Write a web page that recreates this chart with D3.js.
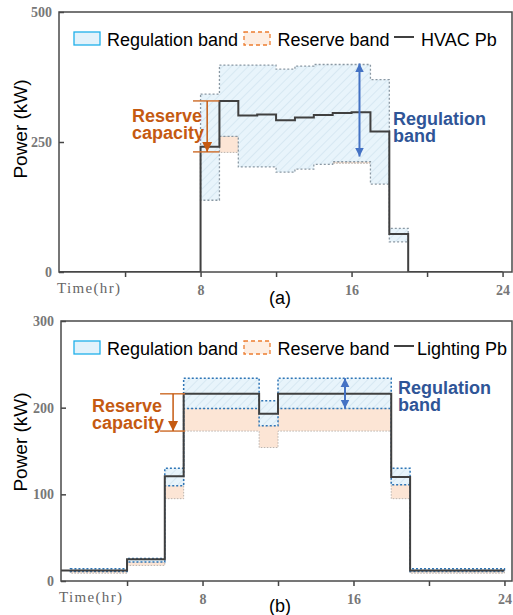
<!DOCTYPE html>
<html>
<head>
<meta charset="utf-8">
<script src="https://cdn.jsdelivr.net/npm/d3@7"></script>
<style>
  body { margin: 0; background: #fff; }
  svg { display: block; }
</style>
</head>
<body>
<div id="chart"></div>
<script>
// hourly data, index = hour of day (interval [h, h+1))
const hours = d3.range(24);

// (a) HVAC
const hvacPb    = [0,0,0,0,0,0,0,0, 241,329,301,303,292,297,302,306,307,270,73, 0,0,0,0,0];
const hvacRegHi = [null,null,null,null,null,null,null,null, 342,398,398,398,390,396,399,399,399,370,84, null,null,null,null,null];
const hvacRegLo = [null,null,null,null,null,null,null,null, 138,261,202,202,192,198,207,212,212,169,58, null,null,null,null,null];
const hvacResLo = [null,null,null,null,null,null,null,null, null,230,null,null,null,null,null,209,209,null,null, null,null,null,null,null];

// (b) Lighting
const lightPb    = [12,12,12,12, 25,25, 121, 216,216,216,216, 193, 216,216,216,216,216,216, 120, 12,12,12,12,12];
const lightRegHi = [null,14,14,14, 26,26, 130, 234,234,234,234, 208, 234,234,234,234,234,234, 130, 14,14,14,14,14];
const lightRegLo = [null,11,11,11, 22,22, 110, 199,199,199,199, 179, 199,199,199,199,199,199, 111, 11,11,11,11,11];
const lightResLo = [null,9,9,9, 18,18, 95, 173,173,173,173, 154, 173,173,173,173,173,173, 95, 9,9,9,9,9];

const xTicks = [4, 8, 12, 16, 20, 24];
const xTickLabels = [8, 16, 24];

const W = 513, H = 615;
const svg = d3.select("#chart").append("svg").attr("width", W).attr("height", H);
const defs = svg.append("defs");

// hatch for regulation band
const pat = defs.append("pattern")
  .attr("id", "hatch")
  .attr("patternUnits", "userSpaceOnUse")
  .attr("width", 6).attr("height", 6)
  .attr("patternTransform", "rotate(45)");
pat.append("rect").attr("width", 6).attr("height", 6).attr("fill", "#e8f4fb");
pat.append("line").attr("x1", 0).attr("y1", 0).attr("x2", 0).attr("y2", 6)
  .attr("stroke", "#c6dcea").attr("stroke-width", 1);

// arrow heads
function marker(id, color, w, h) {
  defs.append("marker")
    .attr("id", id)
    .attr("viewBox", "0 0 10 10")
    .attr("refX", 10).attr("refY", 5)
    .attr("markerUnits", "userSpaceOnUse")
    .attr("markerWidth", h).attr("markerHeight", w)
    .attr("orient", "auto-start-reverse")
    .append("path").attr("d", "M0,0 L10,5 L0,10 z").attr("fill", color);
}
marker("arrOrange", "#c55a11", 11, 10);
marker("arrBlue", "#4472c4", 11, 9);

function stepBand(lo, hi) {
  const pts = [];
  hours.forEach(h => {
    if (lo[h] == null || hi[h] == null) { pts.push(null); return; }
    pts.push({t: h, lo: lo[h], hi: hi[h]}, {t: h + 1, lo: lo[h], hi: hi[h]});
  });
  return pts;
}
function stepLine(vals) {
  const pts = [];
  hours.forEach(h => { pts.push({t: h, v: vals[h]}, {t: h + 1, v: vals[h]}); });
  return pts;
}

function drawPanel(p) {
  const g = svg.append("g");
  const x = d3.scaleLinear().domain(p.xDomain).range([p.left, p.right]);
  const y = d3.scaleLinear().domain([0, p.yMax]).range([p.bottom, p.top]);

  const clipId = "clip" + p.id;
  defs.append("clipPath").attr("id", clipId)
    .append("rect").attr("x", p.left).attr("y", p.top)
    .attr("width", p.right - p.left).attr("height", p.bottom - p.top);

  const area = d3.area().defined(d => d != null)
    .x(d => x(d.t)).y0(d => y(d.lo)).y1(d => y(d.hi));

  const plot = g.append("g").attr("clip-path", `url(#${clipId})`);

  // reserve band
  plot.append("path")
    .attr("d", area(stepBand(p.resLo, p.regLo)))
    .attr("fill", "#fce5d5")
    .attr("stroke", "#b9b2ad").attr("stroke-width", 1)
    .attr("stroke-dasharray", "1.5,1.5");

  // regulation band
  plot.append("path")
    .attr("d", area(stepBand(p.regLo, p.regHi)))
    .attr("fill", "url(#hatch)")
    .attr("stroke", p.bandStroke).attr("stroke-width", p.bandStrokeW)
    .attr("stroke-dasharray", "2,2");

  // baseline power
  const line = d3.line().x(d => x(d.t)).y(d => y(d.v));
  plot.append("path")
    .attr("d", line(stepLine(p.pb)))
    .attr("fill", "none").attr("stroke", "#404040").attr("stroke-width", 2);

  // axes
  const xAxis = g.append("g")
    .attr("transform", `translate(0,${p.bottom})`)
    .call(d3.axisBottom(x).tickValues(xTicks)
      .tickFormat(d => xTickLabels.includes(d) ? d : "")
      .tickSize(5).tickPadding(8));
  xAxis.select(".domain").remove();
  xAxis.selectAll("line").attr("stroke", "#444").attr("stroke-width", 1.5);
  xAxis.selectAll("text")
    .attr("font-family", "Liberation Serif, serif")
    .attr("font-size", 14).attr("font-weight", "bold").attr("fill", "#777");

  const yAxis = g.append("g")
    .attr("transform", `translate(${p.left},0)`)
    .call(d3.axisLeft(y).tickValues(p.yTicks).tickSize(-5).tickPadding(7));
  yAxis.select(".domain").remove();
  yAxis.selectAll("line").attr("stroke", "#444").attr("stroke-width", 1.5);
  yAxis.selectAll("text")
    .attr("font-family", "Liberation Serif, serif")
    .attr("font-size", 14).attr("font-weight", "bold").attr("fill", "#777");

  // frame
  g.append("rect")
    .attr("x", p.left).attr("y", p.top)
    .attr("width", p.right - p.left).attr("height", p.bottom - p.top)
    .attr("fill", "none").attr("stroke", "#4a4a4a").attr("stroke-width", 1.5);

  g.append("text")
    .attr("x", p.left - 2).attr("y", p.bottom + 21)
    .attr("font-family", "Liberation Serif, serif").attr("font-size", 15)
    .attr("fill", "#666")
    .attr("textLength", 63).attr("lengthAdjust", "spacing")
    .text("Time(hr)");

  g.append("text")
    .attr("transform", `translate(27,${p.yLabelY}) rotate(-90)`)
    .attr("text-anchor", "middle")
    .attr("font-family", "Liberation Sans, Arial, sans-serif").attr("font-size", 19)
    .attr("fill", "#000")
    .text("Power (kW)");

  g.append("text")
    .attr("x", 280).attr("y", p.panelY)
    .attr("text-anchor", "middle")
    .attr("font-family", "Liberation Sans, Arial, sans-serif").attr("font-size", 18)
    .text(p.panel);

  // legend
  const ly = p.legendY;
  g.append("rect").attr("x", 74).attr("y", ly - 6).attr("width", 26).attr("height", 13)
    .attr("fill", "#e2f2fb").attr("stroke", "#1fb0ea").attr("stroke-width", 1.3);
  g.append("rect").attr("x", 244).attr("y", ly - 6).attr("width", 26).attr("height", 13)
    .attr("fill", "#fdeee3").attr("stroke", "#ed7d31").attr("stroke-width", 1.3)
    .attr("stroke-dasharray", "4,3");
  g.append("line").attr("x1", 394).attr("x2", 414).attr("y1", ly - 1).attr("y2", ly - 1)
    .attr("stroke", "#000").attr("stroke-width", 1.5);
  const lt = [["Regulation band", 107], ["Reserve band", 277.5], [p.pbName, p.pbX]];
  lt.forEach(([t, lx]) => {
    g.append("text").attr("x", lx).attr("y", ly + 8)
      .attr("font-family", "Liberation Sans, Arial, sans-serif").attr("font-size", 18)
      .text(t);
  });

  // reserve capacity annotation
  const a = p.res;
  [a.top, a.bot].forEach(v => {
    g.append("line")
      .attr("x1", x(a.x0)).attr("x2", x(a.x1)).attr("y1", y(v)).attr("y2", y(v))
      .attr("stroke", "#d07434").attr("stroke-width", 1.5);
  });
  g.append("line")
    .attr("x1", x(a.xa)).attr("x2", x(a.xa)).attr("y1", y(a.top)).attr("y2", y(a.bot))
    .attr("stroke", "#c55a11").attr("stroke-width", 1.5)
    .attr("marker-end", "url(#arrOrange)");
  ["Reserve", "capacity"].forEach((t, i) => {
    g.append("text").attr("x", a.tx).attr("y", a.ty + i * 17)
      .attr("font-family", "Liberation Sans, Arial, sans-serif")
      .attr("font-size", 18).attr("font-weight", "bold").attr("fill", "#c55a11")
      .text(t);
  });

  // regulation band annotation
  const r = p.reg;
  g.append("line")
    .attr("x1", x(r.x)).attr("x2", x(r.x)).attr("y1", y(r.hi)).attr("y2", y(r.lo))
    .attr("stroke", "#4472c4").attr("stroke-width", 2)
    .attr("marker-start", "url(#arrBlue)").attr("marker-end", "url(#arrBlue)");
  ["Regulation", "band"].forEach((t, i) => {
    g.append("text").attr("x", r.tx).attr("y", r.ty + i * 17)
      .attr("font-family", "Liberation Sans, Arial, sans-serif")
      .attr("font-size", 18).attr("font-weight", "bold").attr("fill", "#2f5597")
      .text(t);
  });
}

drawPanel({
  id: "a", panel: "(a)", panelY: 304,
  left: 59, right: 512, top: 12, bottom: 272,
  xDomain: [0.5, 24.5], yMax: 500, yTicks: [0, 250, 500],
  pb: hvacPb, regHi: hvacRegHi, regLo: hvacRegLo, resLo: hvacResLo,
  bandStroke: "#8a98a3", bandStrokeW: 1.3,
  yLabelY: 129, legendY: 38, pbName: "HVAC Pb", pbX: 421,
  res: {x0: 7.6, x1: 9.0, xa: 8.35, top: 329, bot: 231, tx: 132, ty: 122},
  reg: {x: 16.42, hi: 401, lo: 222, tx: 393, ty: 125}
});

drawPanel({
  id: "b", panel: "(b)", panelY: 612,
  left: 61, right: 512, top: 321, bottom: 581,
  xDomain: [0.5, 24.4], yMax: 300, yTicks: [0, 100, 200, 300],
  pb: lightPb, regHi: lightRegHi, regLo: lightRegLo, resLo: lightResLo,
  bandStroke: "#2e75b6", bandStrokeW: 1.5,
  yLabelY: 442, legendY: 347, pbName: "Lighting Pb", pbX: 417,
  res: {x0: 5.75, x1: 7.07, xa: 6.44, top: 216, bot: 173, tx: 92, ty: 412},
  reg: {x: 15.55, hi: 234, lo: 199, tx: 398, ty: 394}
});
</script>
</body>
</html>
